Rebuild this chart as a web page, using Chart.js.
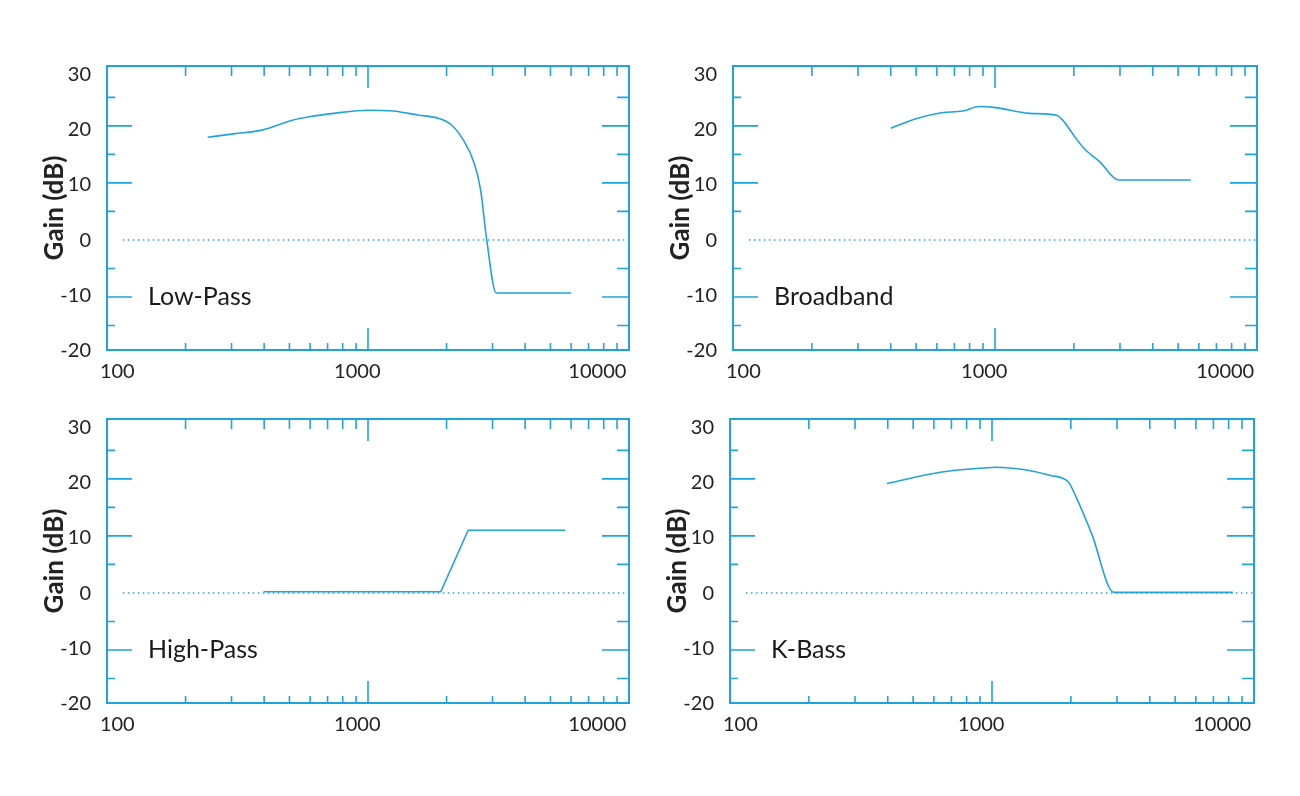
<!DOCTYPE html>
<html>
<head>
<meta charset="utf-8">
<script src="https://cdn.jsdelivr.net/npm/chart.js@4.4.1/dist/chart.umd.min.js"></script>
<style>
  html, body { margin: 0; padding: 0; background: #fff; }
  body { width: 1300px; height: 796px; position: relative; overflow: hidden; }
  .panel { position: absolute; width: 650px; height: 398px; }
</style>
</head>
<body>
<div class="panel" style="left:0;top:0"><canvas id="lowPass"></canvas></div>
<div class="panel" style="left:626px;top:0"><canvas id="broadband"></canvas></div>
<div class="panel" style="left:0;top:353px"><canvas id="highPass"></canvas></div>
<div class="panel" style="left:623px;top:353px"><canvas id="kBass"></canvas></div>
<script>
// Filter curves (frequency in Hz, gain in dB)
const lowPassFreq = [243, 305, 396, 513, 595, 741, 1000, 1250, 1555, 1866, 2085, 2320, 2550, 2700, 2850, 3100, 6000];
const lowPassGain = [18.0, 18.6, 19.3, 21.0, 21.6, 22.2, 22.75, 22.6, 21.9, 21.3, 20.2, 17.5, 13.5, 8.8, 0, -9.3, -9.3];

const broadbandFreq = [400, 503, 625, 752, 872, 1010, 1349, 1707, 1806, 2015, 2193, 2512, 2960, 5590];
const broadbandGain = [19.6, 21.3, 22.3, 22.6, 23.4, 23.2, 22.2, 21.9, 21.1, 18.1, 16.0, 13.7, 10.5, 10.5];

const highPassFreq = [398, 1900, 2420, 5700];
const highPassGain = [0.2, 0.2, 11.0, 11.0];

const kBassFreq = [397, 643, 930, 1036, 1337, 1673, 1960, 2080, 2400, 2920, 8300];
const kBassGain = [19.2, 21.2, 21.9, 22.05, 21.6, 20.6, 19.4, 17.1, 10.4, 0.1, 0.1];

// dotted 0 dB reference line
const zeroFreq = [115, 10000];
const zeroGain = [0, 0];

// axis ticks
const xTickLabels = [100, 1000, 10000];
const xMinorTicks = [200, 300, 400, 500, 600, 700, 800, 900, 2000, 3000, 4000, 5000, 6000, 7000, 8000, 9000];
const xMajorTicks = [1000];
const yTickLabels = [-20, -10, 0, 10, 20, 30];
const yMajorTicks = [20, 10, -10];
const yMinorTicks = [25, 15, 5, -5, -15];

const BLUE = '#1fa3df';
Chart.defaults.font.family = 'Lato, "Open Sans", sans-serif';
Chart.defaults.color = '#222';

function toPoints(xs, ys) {
    return xs.map((x, i) => ({ x: x, y: ys[i] }));
}

// cadre + graduations intérieures + nom du filtre
const framePlugin = {
    id: 'frame',
    afterDatasetsDraw(chart) {
        const { ctx, chartArea: a, scales } = chart;
        const xs = scales.x, ys = scales.y;
        ctx.save();
        ctx.strokeStyle = BLUE;
        ctx.lineWidth = 1.6;
        ctx.beginPath();
        xMinorTicks.forEach(v => {
            const px = xs.getPixelForValue(v);
            ctx.moveTo(px, a.top); ctx.lineTo(px, a.top + 10);
            ctx.moveTo(px, a.bottom); ctx.lineTo(px, a.bottom - 7);
        });
        xMajorTicks.forEach(v => {
            const px = xs.getPixelForValue(v);
            ctx.moveTo(px, a.top); ctx.lineTo(px, a.top + 22);
            ctx.moveTo(px, a.bottom); ctx.lineTo(px, a.bottom - 22);
        });
        yMinorTicks.forEach(v => {
            const py = ys.getPixelForValue(v);
            ctx.moveTo(a.left, py); ctx.lineTo(a.left + 8, py);
            ctx.moveTo(a.right, py); ctx.lineTo(a.right - 12, py);
        });
        yMajorTicks.forEach(v => {
            const py = ys.getPixelForValue(v);
            ctx.moveTo(a.left, py); ctx.lineTo(a.left + 25, py);
            ctx.moveTo(a.right, py); ctx.lineTo(a.right - 27, py);
        });
        ctx.stroke();
        ctx.lineWidth = 2;
        ctx.strokeRect(a.left, a.top, a.right - a.left, a.bottom - a.top);

        const name = chart.options.plugins.frame.name;
        ctx.fillStyle = '#1a1a1a';
        ctx.font = '25px Lato, "Open Sans", sans-serif';
        ctx.textBaseline = 'middle';
        ctx.fillText(name, a.left + 41, ys.getPixelForValue(-10));
        ctx.restore();
    }
};

function makePanel(canvasId, name, freq, gain, smooth, padRight) {
    new Chart(document.getElementById(canvasId), {
        type: 'line',
        data: {
            datasets: [{
                data: toPoints(zeroFreq, zeroGain),
                borderColor: BLUE,
                borderWidth: 1.6,
                borderDash: [1.5, 3.5],
                pointRadius: 0,
                tension: 0
            }, {
                data: toPoints(freq, gain),
                borderColor: BLUE,
                borderWidth: 1.6,
                pointRadius: 0,
                cubicInterpolationMode: smooth ? 'monotone' : 'default',
                tension: 0
            }]
        },
        options: {
            responsive: true,
            maintainAspectRatio: false,
            animation: false,
            layout: { padding: { top: 66, right: padRight, left: 0, bottom: 0 } },
            plugins: {
                legend: { display: false },
                tooltip: { enabled: false },
                frame: { name: name }
            },
            scales: {
                x: {
                    type: 'logarithmic',
                    min: 100,
                    max: 10000,
                    display: false
                },
                y: {
                    type: 'linear',
                    min: -19.3,
                    max: 30.5,
                    display: false
                },
                // label-only axes (the printed labels sit slightly off the tick marks)
                xl: {
                    type: 'logarithmic',
                    position: 'bottom',
                    min: 90.6,
                    max: 13550,
                    grid: { display: false, drawTicks: false },
                    border: { display: false },
                    afterBuildTicks: s => { s.ticks = xTickLabels.map(v => ({ value: v })); },
                    afterFit: s => { s.height = 48; },
                    ticks: {
                        autoSkip: false,
                        maxRotation: 0,
                        padding: 10,
                        font: { size: 20 },
                        callback: v => String(v)
                    }
                },
                yl: {
                    type: 'linear',
                    position: 'left',
                    min: -19.9,
                    max: 31.55,
                    grid: { display: false, drawTicks: false },
                    border: { display: false },
                    afterBuildTicks: s => { s.ticks = yTickLabels.map(v => ({ value: v })); },
                    afterFit: s => { s.width = 107; },
                    ticks: {
                        autoSkip: false,
                        padding: 16,
                        font: { size: 20 },
                        callback: v => String(v)
                    },
                    title: {
                        display: true,
                        text: 'Gain (dB)',
                        font: { size: 26, weight: 'bold' },
                        padding: { top: 39, bottom: 0 }
                    }
                }
            }
        },
        plugins: [framePlugin]
    });
}

makePanel('lowPass', 'Low-Pass', lowPassFreq, lowPassGain, true, 21);
makePanel('broadband', 'Broadband', broadbandFreq, broadbandGain, true, 19);
makePanel('highPass', 'High-Pass', highPassFreq, highPassGain, false, 21);
makePanel('kBass', 'K-Bass', kBassFreq, kBassGain, true, 19);
</script>
</body>
</html>
